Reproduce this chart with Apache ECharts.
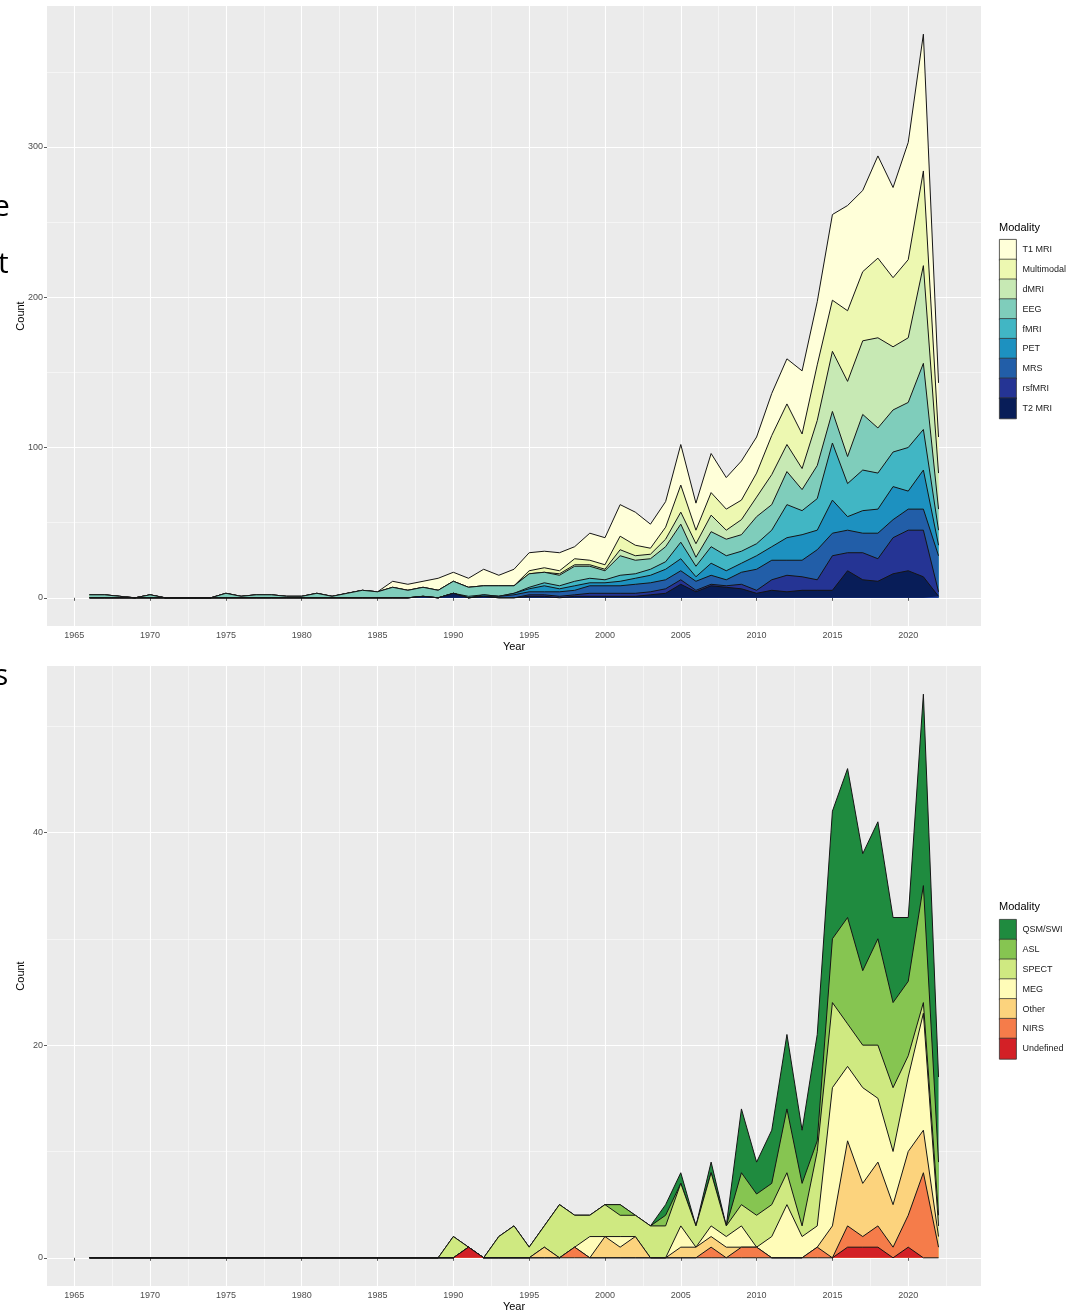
<!DOCTYPE html>
<html><head><meta charset="utf-8">
<script src="https://cdn.jsdelivr.net/npm/echarts@6/dist/echarts.min.js"></script>
<style>html,body{margin:0;padding:0;background:#fff}#c{width:1084px;height:1313px}</style>
</head><body><div id="c"></div><script>
// ---------- DATA ----------
const years = [1966,1967,1968,1969,1970,1971,1972,1973,1974,1975,1976,1977,1978,1979,1980,1981,1982,1983,1984,1985,
  1986,1987,1988,1989,1990,1991,1992,1993,1994,1995,1996,1997,1998,1999,2000,2001,2002,2003,2004,2005,
  2006,2007,2008,2009,2010,2011,2012,2013,2014,2015,2016,2017,2018,2019,2020,2021,2022];

// Top chart (stack order bottom -> top)
const t2mri  = [0,0,0,0,0,0,0,0,0,0,0,0,0,0,0,0,0,0,0,0,
  0,0,1,0,3,0,1,0,0,1,1,0,1,1,1,1,1,2,3,9,4,8,7,6,3,5,4,5,5,5,18,12,11,16,18,14,1];
const rsfmri = [0,0,0,0,0,0,0,0,0,0,0,0,0,0,0,0,0,0,0,0,
  0,0,0,0,0,0,0,0,0,1,1,1,1,2,2,2,2,2,3,3,1,1,1,3,2,7,11,9,7,23,12,18,15,24,27,31,3];
const mrs    = [0,0,0,0,0,0,0,0,0,0,0,0,0,0,0,0,0,0,0,0,
  0,0,0,0,0,0,0,1,2,2,2,3,3,5,5,5,6,6,6,6,6,6,4,8,14,13,10,11,20,15,15,13,17,12,14,14,24];
const pet    = [0,0,0,0,0,0,0,0,0,0,0,0,0,0,0,0,0,0,0,0,
  0,0,0,0,0,0,1,0,1,2,4,2,3,2,2,3,4,5,7,8,3,8,6,6,9,9,15,17,13,22,9,15,16,22,12,26,7];
const fmri   = [0,0,0,0,0,0,0,0,0,0,0,0,0,0,0,0,0,0,0,0,
  0,0,0,0,0,1,0,0,0,1,2,2,3,3,2,4,3,4,5,11,7,11,10,8,8,11,22,16,21,38,22,27,24,23,29,27,10];
const eeg    = [2,2,1,0,2,0,0,0,0,3,1,2,2,1,1,3,1,3,5,4,
  7,5,6,5,8,6,6,7,5,9,7,7,10,8,6,13,9,7,10,12,6,10,11,11,18,17,22,14,22,21,18,37,30,28,30,44,14];
const dmri   = [0,0,0,0,0,0,0,0,0,0,0,0,0,0,0,0,0,0,0,0,
  0,0,0,0,0,0,0,0,0,0,0,1,1,1,1,4,3,3,5,8,9,11,6,10,13,20,18,14,30,40,50,49,60,42,43,65,24];
const multimodal = [0,0,0,0,0,0,0,0,0,0,0,0,0,0,0,0,0,0,0,0,
  0,0,0,0,0,0,0,0,0,2,3,2,4,3,3,9,7,4,8,18,9,15,14,13,16,26,27,23,37,34,47,46,53,46,52,63,24];
const t1mri  = [0,0,0,0,0,0,0,0,0,0,0,0,0,0,0,0,0,0,0,0,
  4,4,4,8,6,6,11,7,11,12,11,12,8,18,18,21,22,16,17,27,18,26,21,26,24,28,30,42,42,57,70,54,68,60,78,91,36];

// Bottom chart (stack order bottom -> top)
const undefinedMod = [0,0,0,0,0,0,0,0,0,0,0,0,0,0,0,0,0,0,0,0,0,0,0,0,
  0,1,0,0,0,0,0,0,0,0,0,0,0,0,0,0,0,0,0,0,0,0,0,0,0,0,1,1,1,0,1,0,0];
const nirs  = [0,0,0,0,0,0,0,0,0,0,0,0,0,0,0,0,0,0,0,0,0,0,0,0,
  0,0,0,0,0,0,0,0,1,0,0,0,0,0,0,0,0,1,0,1,1,0,0,0,1,0,2,1,2,1,3,8,1];
const other = [0,0,0,0,0,0,0,0,0,0,0,0,0,0,0,0,0,0,0,0,0,0,0,0,
  0,0,0,0,0,0,1,0,0,0,2,1,2,0,0,1,1,1,1,0,0,0,0,0,0,3,8,5,6,4,6,4,1];
const meg   = [0,0,0,0,0,0,0,0,0,0,0,0,0,0,0,0,0,0,0,0,0,0,0,0,
  0,0,0,0,0,0,0,0,0,2,0,1,0,0,0,2,0,1,1,2,0,2,5,2,2,13,7,9,6,5,7,11,1];
const spect = [0,0,0,0,0,0,0,0,0,0,0,0,0,0,0,0,0,0,0,0,0,0,0,0,
  2,0,0,2,3,1,2,5,3,2,3,2,2,3,3,4,2,5,1,2,3,3,3,1,7,8,4,4,5,6,2,1,1];
const asl   = [0,0,0,0,0,0,0,0,0,0,0,0,0,0,0,0,0,0,0,0,0,0,0,0,
  0,0,0,0,0,0,0,0,0,0,0,1,0,0,1,0,0,0,0,3,2,2,6,4,1,6,10,7,10,8,7,11,5];
const qsmswi = [0,0,0,0,0,0,0,0,0,0,0,0,0,0,0,0,0,0,0,0,0,0,0,0,
  0,0,0,0,0,0,0,0,0,0,0,0,0,0,1,1,0,1,0,6,3,5,7,5,10,12,14,11,11,8,6,18,8];

const xMajor = [1965,1970,1975,1980,1985,1990,1995,2000,2005,2010,2015,2020];
const xMinor = [1967.5,1972.5,1977.5,1982.5,1987.5,1992.5,1997.5,2002.5,2007.5,2012.5,2017.5,2022.5];
const yTopMajor = [0,100,200,300];
const yTopMinor = [50,150,250,350];
const yBotMajor = [0,20,40];
const yBotMinor = [10,30,50];

const topNames = ['T2 MRI','rsfMRI','MRS','PET','fMRI','EEG','dMRI','Multimodal','T1 MRI'];
const topVals = [t2mri, rsfmri, mrs, pet, fmri, eeg, dmri, multimodal, t1mri];
const topColors = ['#081D58','#253494','#225EA8','#1D91C0','#41B6C4','#7FCDBB','#C7E9B4','#EDF8B1','#FFFFD9'];

const botNames = ['Undefined','NIRS','Other','MEG','SPECT','ASL','QSM/SWI'];
const botVals = [undefinedMod, nirs, other, meg, spect, asl, qsmswi];
const botColors = ['#D32026','#F57C4A','#FCD37D','#FFFCB8','#CFE981','#86C551','#1F8B3F'];

// ---------- CHART ----------
const chart = echarts.init(document.getElementById('c'), null, {renderer:'canvas'});

// cumulative stacking (bottom layer first), computed from the arrays above
function cumulate(arrs){
  const out = []; let run = years.map(()=>0);
  arrs.forEach(a=>{ run = run.map((s,i)=>s+a[i]); out.push(run.slice()); });
  return out;
}
const topCum = cumulate(topVals);
const botCum = cumulate(botVals);
const topMax = Math.max(...topCum[topCum.length-1]);
const botMax = Math.max(...botCum[botCum.length-1]);
const xMin = years[0] - 0.05*(years[years.length-1]-years[0]);
const xMax = years[years.length-1] + 0.05*(years[years.length-1]-years[0]);

const FONT = 'Liberation Sans, Arial, sans-serif';
const gridL = 47, gridW = 934;

function xAxes(gi){
  return [
    {gridIndex:gi, type:'value', min:xMin, max:xMax,
     name:'Year', nameLocation:'middle', nameGap:15, nameMoveOverlap:false,
     nameTextStyle:{color:'#000', fontSize:11, fontFamily:FONT},
     axisLine:{show:false},
     axisTick:{show:true, length:3, lineStyle:{color:'#333', width:0.8}, customValues:xMajor},
     axisLabel:{show:true, customValues:xMajor, color:'#4d4d4d', fontSize:9, margin:5, fontFamily:FONT,
       formatter:(v)=>String(Math.round(v))},
     splitLine:{show:true, lineStyle:{color:'#fff', width:1.1}}},
    {gridIndex:gi, type:'value', min:xMin, max:xMax,
     axisLine:{show:false},
     axisTick:{show:false, customValues:xMinor},
     axisLabel:{show:false, customValues:xMinor},
     splitLine:{show:true, lineStyle:{color:'#fff', width:0.5}}}
  ];
}
function yAxes(gi, M, major, minor){
  return [
    {gridIndex:gi, type:'value', min:-0.05*M, max:1.05*M,
     name:'Count', nameLocation:'middle', nameGap:21, nameRotate:90, nameMoveOverlap:false,
     nameTextStyle:{color:'#000', fontSize:11, fontFamily:FONT},
     axisLine:{show:false},
     axisTick:{show:true, length:3, lineStyle:{color:'#333', width:0.8}, customValues:major},
     axisLabel:{show:true, customValues:major, color:'#4d4d4d', fontSize:9, margin:4, fontFamily:FONT},
     splitLine:{show:true, lineStyle:{color:'#fff', width:1.1}}},
    {gridIndex:gi, type:'value', min:-0.05*M, max:1.05*M,
     axisLine:{show:false},
     axisTick:{show:false, customValues:minor},
     axisLabel:{show:false, customValues:minor},
     splitLine:{show:true, lineStyle:{color:'#fff', width:0.5}}}
  ];
}

// draw highest cumulative first, each filled down to zero
function mkSeries(names, cum, colors, xi, yi){
  const s = [];
  for (let k = names.length-1; k >= 0; k--) {
    s.push({
      name:names[k], type:'line', xAxisIndex:xi, yAxisIndex:yi,
      data: years.map((y,i)=>[y, cum[k][i]]),
      symbol:'none', showSymbol:false, silent:true,
      color: colors[k],
      itemStyle:{color:colors[k]},
      lineStyle:{color:'#151515', width:1},
      areaStyle:{color:colors[k], opacity:1},
      z: 2 + (names.length-1-k)
    });
  }
  return s;
}

const legendCommon = {
  orient:'vertical', left:994, icon:'rect', itemWidth:17, itemHeight:21, itemGap:-2,
  selectedMode:false,
  textStyle:{fontSize:9, color:'#1a1a1a', fontFamily:FONT, padding:[0,0,0,1]},
  itemStyle:{borderColor:'#333', borderWidth:0.8},
  lineStyle:{opacity:0, width:0}
};

const option = {
  backgroundColor:'#ffffff',
  animation:false,
  grid:[
    {left:gridL, width:gridW, top:6, height:620, show:true, backgroundColor:'#EBEBEB', borderWidth:0, containLabel:false},
    {left:gridL, width:gridW, top:666, height:620, show:true, backgroundColor:'#EBEBEB', borderWidth:0, containLabel:false}
  ],
  xAxis: [...xAxes(0), ...xAxes(1)],
  yAxis: [...yAxes(0, topMax, yTopMajor, yTopMinor), ...yAxes(1, botMax, yBotMajor, yBotMinor)],
  legend:[
    Object.assign({}, legendCommon, {top:234, data: topNames.slice().reverse()}),
    Object.assign({}, legendCommon, {top:914, data: botNames.slice().reverse()})
  ],
  graphic:[
    {type:'text', left:999, top:222, style:{text:'Modality', fontSize:11, fill:'#000', fontFamily:FONT}},
    {type:'text', left:999, top:901, style:{text:'Modality', fontSize:11, fill:'#000', fontFamily:FONT}},
    {type:'text', x:-7, y:192, style:{text:'e', fontSize:30, fill:'#000', fontFamily:'Open Sans, sans-serif'}},
    {type:'text', x:-2, y:249, style:{text:'t', fontSize:30, fill:'#000', fontFamily:'Open Sans, sans-serif'}},
    {type:'text', x:-6, y:661, style:{text:'s', fontSize:30, fill:'#000', fontFamily:'Open Sans, sans-serif'}}
  ],
  series: [
    ...mkSeries(topNames, topCum, topColors, 0, 0),
    ...mkSeries(botNames, botCum, botColors, 2, 2)
  ]
};
chart.setOption(option);
</script></body></html>
